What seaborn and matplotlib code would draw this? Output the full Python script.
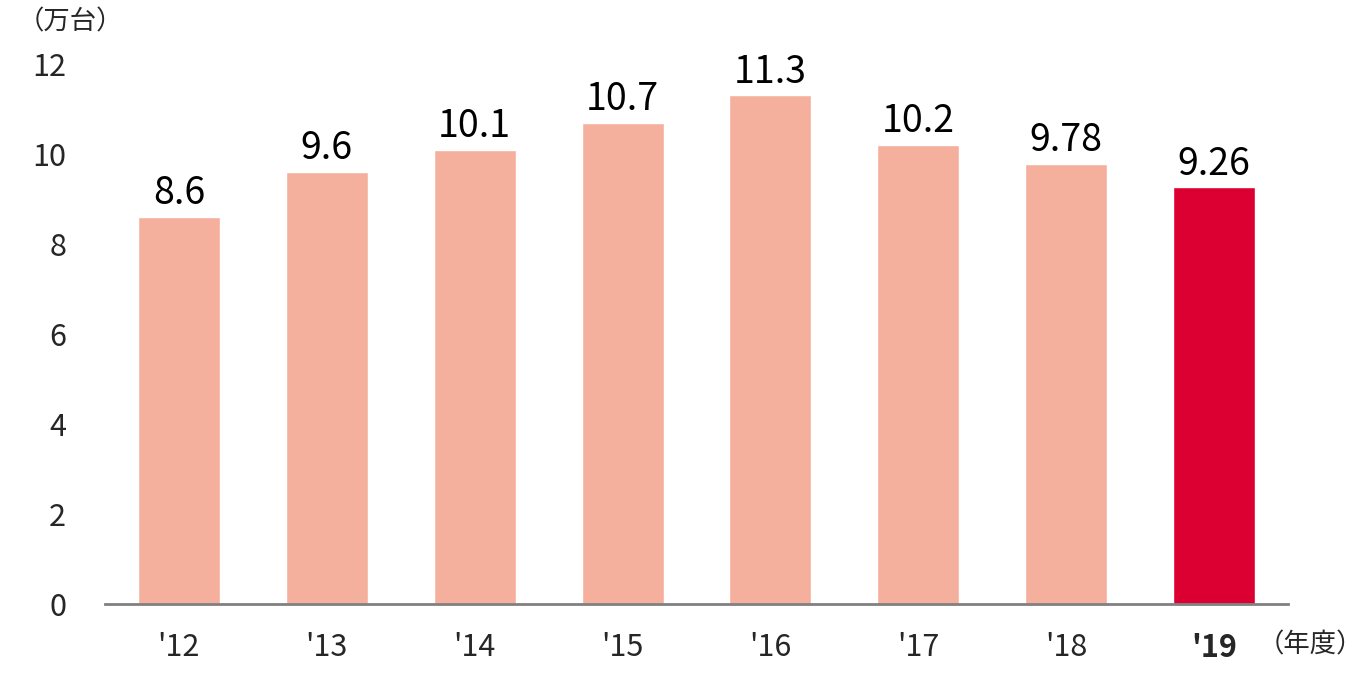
import matplotlib
matplotlib.use('Agg')
import matplotlib.pyplot as plt
import seaborn as sns
import pandas as pd

# data
years = ["'12", "'13", "'14", "'15", "'16", "'17", "'18", "'19"]
sales = [8.6, 9.6, 10.1, 10.7, 11.3, 10.2, 9.78, 9.26]
labels = ['8.6', '9.6', '10.1', '10.7', '11.3', '10.2', '9.78', '9.26']
yticks = [0, 2, 4, 6, 8, 10, 12]

LIGHT = '#F4B09C'
RED = '#DC0032'

sns.set_theme(style='white')
plt.rcParams['font.family'] = ['Noto Sans CJK JP', 'DejaVu Sans']

df = pd.DataFrame({'year': years, 'sales': sales})
colors = [LIGHT] * (len(years) - 1) + [RED]

fig = plt.figure(figsize=(13.66, 6.8), dpi=100)
ax = fig.add_axes([105 / 1366, 1 - 604 / 680, (1288 - 105) / 1366, (604 - 64) / 680])

sns.barplot(data=df, x='year', y='sales', hue='year', palette=colors,
            legend=False, width=0.555, saturation=1, ax=ax)

for i, (v, t) in enumerate(zip(sales, labels)):
    ax.text(i, v + 0.08, t, ha='center', va='bottom', fontsize=27, color='black')

ax.set_xlim(-0.5, len(years) - 0.5)
ax.set_ylim(0, 12)
ax.set_yticks(yticks)
ax.set_yticklabels([str(t) for t in yticks], fontsize=22)
ax.tick_params(axis='y', length=0, pad=28)
ax.tick_params(axis='x', length=0, pad=20, labelsize=22)
ax.set_xlabel('')
ax.set_ylabel('')
for s in ['top', 'right', 'left']:
    ax.spines[s].set_visible(False)
ax.spines['bottom'].set_color('#808080')
ax.spines['bottom'].set_linewidth(2)
ax.get_xticklabels()[-1].set_fontweight('bold')

fig.text(18 / 1366, 1 - 22 / 680, '（万台）', fontsize=19, va='center', ha='left')
fig.text(1258 / 1366, 1 - 645 / 680, '（年度）', fontsize=19, va='center', ha='left')

fig.savefig('out.png', dpi=100)
